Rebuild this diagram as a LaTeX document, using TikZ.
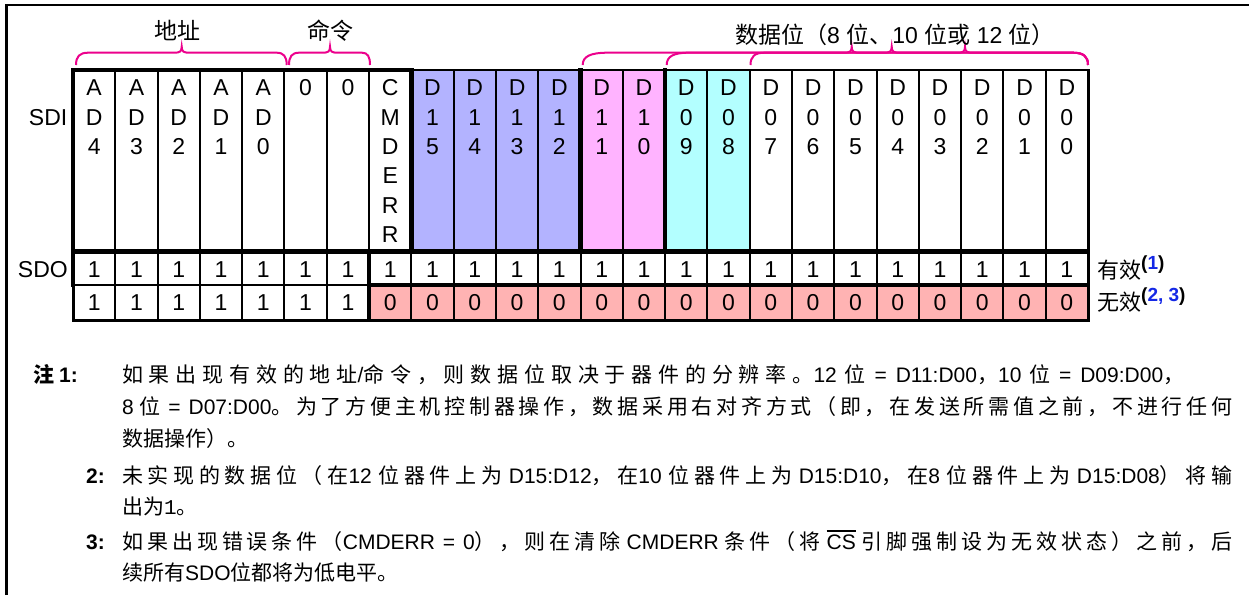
\documentclass[tikz,border=0pt]{standalone}
\usepackage{fontspec}
\setmainfont{Liberation Sans}
\newfontfamily\zh{Noto Sans CJK SC}
\newfontfamily\monof{Liberation Mono}
\definecolor{cpurple}{RGB}{179,179,255}
\definecolor{cpink}{RGB}{255,179,255}
\definecolor{ccyan}{RGB}{179,255,255}
\definecolor{csalmon}{RGB}{255,179,179}
\definecolor{nblue}{RGB}{20,40,230}
% CJK runs with stretchable glue between characters
\def\Zfirst#1{#1\Zrest}
\def\Zrest#1{\ifx#1\relax\else\hskip0pt plus 1pt\relax#1\expandafter\Zrest\fi}
\newcommand\Zrun[1]{{\zh\Zfirst#1\relax}}
\newcommand\Bg{\hskip2pt plus 1pt\relax}
\newcommand\Sp{\hskip6pt plus 0.5pt\relax}
\newcommand\notefont{\fontsize{21}{25}\selectfont}
\newcommand\ovl[1]{\setbox0\hbox{#1}\rlap{\rule[\dimexpr\ht0+2.5pt\relax]{\wd0}{1.6pt}}\box0}
\newcommand\supn[1]{\raisebox{9.5pt}{\fontsize{19}{19}\selectfont\bfseries #1}}
\def\cw{42.2917}
\newcommand\brc[5]{\draw[bracel] (#1,65) .. controls (#1,56.5) and ({#1+0.3*#4},52.7) .. ({#1+#4},52.7) -- ({#3-7},52.7) .. controls ({#3-2},52.7) and (#3,51.5) .. (#3,46.7) .. controls (#3,51.5) and ({#3+2},52.7) .. ({#3+7},52.7) -- ({#2-#5},52.7) .. controls ({#2-0.3*#5},52.7) and (#2,56.5) .. (#2,65);}
\begin{document}
\begin{tikzpicture}[x=1pt,y=-1pt,
  thinl/.style={line width=2pt},
  thickl/.style={line width=4.5pt, line cap=rect},
  medl/.style={line width=3pt, line cap=rect},
  bracel/.style={magenta, line width=2pt},
  celltxt/.style={anchor=base, inner sep=0pt, font=\fontsize{23}{23}\selectfont},
  cjklbl/.style={anchor=base, inner sep=0pt, font=\fontsize{23}{23}\selectfont\zh},
  note/.style={anchor=base west, inner sep=0pt, font=\notefont}]
\useasboundingbox (0,0) rectangle (1249,595);
\fill[white] (0,0) rectangle (1249,595);
% frame
\draw[line width=2.5pt] (6.5,595) -- (6.5,5) -- (1249,5);
% fills
\fill[cpurple] ({73+8*\cw},70) rectangle ({73+12*\cw},251.5);
\fill[cpink] ({73+12*\cw},70) rectangle ({73+14*\cw},251.5);
\fill[ccyan] ({73+14*\cw},70) rectangle ({73+16*\cw},251.5);
\fill[csalmon] ({73+7*\cw},285) rectangle ({73+24*\cw},320);
% thin grid
\foreach \i in {1,...,23} \draw[thinl] ({73+\i*\cw},70) -- ({73+\i*\cw},320);
\draw[thinl] (73,70) -- (1088,70);
\draw[thinl] (73,285) -- (1088,285);
% thick / medium lines
\draw[thickl] ({73+8*\cw},251.5) -- ({73+8*\cw},70) -- (73,70) -- (73,285);
\draw[thickl] ({73+12*\cw},70) -- ({73+12*\cw},251.5);
\draw[thickl] ({73+14*\cw},70) -- ({73+14*\cw},251.5);
\draw[thickl] (73,251.5) -- (1088,251.5);
\draw[thickl] ({73+7*\cw},251.5) -- ({73+7*\cw},320);
\draw[thickl] ({73+7*\cw},285) -- (1088,285);
\draw[medl] (73,285) -- (73,320) -- (1088,320);
\draw[medl] (1088,70) -- (1088,320);
% braces
\brc{76}{286.7}{181.7}{12}{10}
\brc{289}{370}{330}{10}{8}
\brc{582.7}{1088}{851.7}{25}{15}
\brc{666.7}{1088}{891.7}{22}{15}
\brc{750.5}{1088}{965}{14}{15}
% top labels
\node[cjklbl] (addr) at (177,39.5) {地址};
\node[cjklbl] (cmd) at (330,39.5) {命令};
\node[anchor=base west, inner sep=0pt, font=\fontsize{23}{23}\selectfont] (datalbl) at (735,43.5) {{\zh 数据位（}8 {\zh 位、}10 {\zh 位或} 12 {\zh 位）}};
% row labels
\node[celltxt, anchor=base east] (sdi) at (67.5,125.2) {SDI};
\node[celltxt, anchor=base east] (sdo) at (68,277.7) {SDO};
% SDI cells
\foreach \col [count=\i from 0] in {{A,D,4},{A,D,3},{A,D,2},{A,D,1},{A,D,0},{0},{0},{C,M,D,E,R,R},{D,1,5},{D,1,4},{D,1,3},{D,1,2},{D,1,1},{D,1,0},{D,0,9},{D,0,8},{D,0,7},{D,0,6},{D,0,5},{D,0,4},{D,0,3},{D,0,2},{D,0,1},{D,0,0}}{
  \foreach \ch [count=\k from 0] in \col {
    \node[celltxt] (sdi\i-\k) at ({73+(\i+0.5)*\cw},{95.7+29.4*\k}) {\ch};
  }
}
% SDO rows
\foreach \i in {0,...,23} {
  \node[celltxt] (sdoA\i) at ({73+(\i+0.5)*\cw},277.7) {1};
  \node[celltxt] (sdoB\i) at ({73+(\i+0.5)*\cw},310.7) {\ifnum\i<7 1\else 0\fi};
}
% right labels
\node[anchor=base west, inner sep=0pt, font=\fontsize{22}{22}\selectfont] (valid) at (1097,278.5) {{\zh 有效}\supn{(\textcolor{nblue}{1})}};
\node[anchor=base west, inner sep=0pt, font=\fontsize{22}{22}\selectfont] (invalid) at (1097,310.5) {{\zh 无效}\supn{(\textcolor{nblue}{2, 3})}};
% notes
\node[note] (n1lab) at (33,382) {{\zh\bfseries 注}\hspace{5pt}\textbf{1:}};
\node[note] (n1a) at (122,382) {\makebox[1062pt][s]{\Zrun{如果出现有效的地址}/\Zrun{命令，则数据位取决于器件的分辨率。}12\Bg\Zrun{位}\Sp=\Sp D11:D00\Zrun{，}10\Bg\Zrun{位}\Sp=\Sp D09:D00\Zrun{，}}};
\node[note] (n1b) at (122,414) {\makebox[1110pt][s]{8\Bg\Zrun{位}\Sp=\Sp D07:D00\Zrun{。为了方便主机控制器操作，数据采用右对齐方式（即，在发送所需值之前，不进行任何}}};
\node[note] (n1c) at (122,446) {{\zh 数据操作）。}};
\node[note] (n2lab) at (86,483) {\textbf{2:}};
\node[note] (n2a) at (122,483) {\makebox[1110pt][s]{\Zrun{未实现的数据位（在}12\Bg\Zrun{位器件上为}\Bg D15:D12\Zrun{，在}10\Bg\Zrun{位器件上为}\Bg D15:D10\Zrun{，在}8\Bg\Zrun{位器件上为}\Bg D15:D08\Zrun{）将输}}};
\node[note] (n2b) at (122,514) {{\zh 出为}{\monof 1}{\zh 。}};
\node[note] (n3lab) at (86,549) {\textbf{3:}};
\node[note] (n3a) at (122,549) {\makebox[1110pt][s]{\Zrun{如果出现错误条件（}CMDERR\Sp=\Sp 0\Zrun{），则在清除}\Bg CMDERR\Bg\Zrun{条件（将}\Bg\ovl{CS}\Bg\Zrun{引脚强制设为无效状态）之前，后}}};
\node[note] (n3b) at (122,580) {{\zh 续所有}SDO{\zh 位都将为低电平。}};
\end{tikzpicture}
\end{document}
